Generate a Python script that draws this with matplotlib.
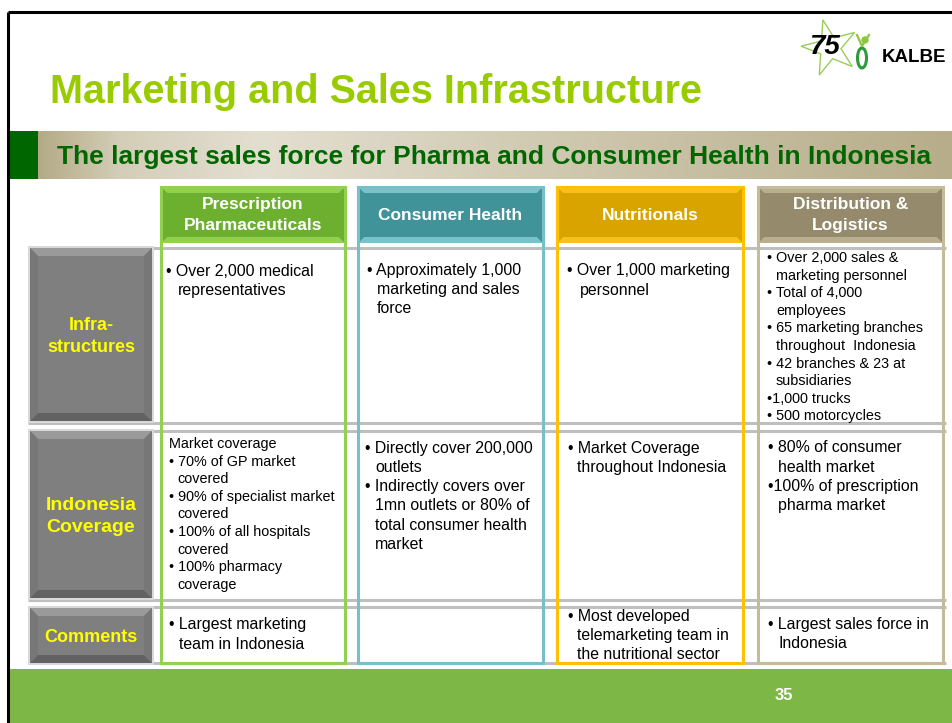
import numpy as np
import matplotlib
matplotlib.use("Agg")
import matplotlib.pyplot as plt
from matplotlib.patches import Rectangle, Polygon, Ellipse, Circle
from matplotlib.colors import to_rgb

plt.rcParams['font.family'] = ['Liberation Sans', 'DejaVu Sans']

# ---- slide content ----
title = "Marketing and Sales Infrastructure"
subtitle = "The largest sales force for Pharma and Consumer Health in Indonesia"
columns = ["Prescription\nPharmaceuticals", "Consumer Health", "Nutritionals", "Distribution &\nLogistics"]
rows = ["Infra-\nstructures", "Indonesia\nCoverage", "Comments"]
page_number = "35"

infra_cells = [
    ["• Over 2,000 medical", "  representatives"],
    ["• Approximately 1,000", "  marketing and sales", "  force"],
    ["• Over 1,000 marketing", "  personnel"],
    ["• Over 2,000 sales &", "  marketing personnel", "• Total of 4,000", "  employees",
     "• 65 marketing branches", "  throughout  Indonesia", "• 42 branches & 23 at",
     "  subsidiaries", "•1,000 trucks", "• 500 motorcycles"],
]
coverage_cells = [
    ["Market coverage", "• 70% of GP market", "  covered", "• 90% of specialist market",
     "  covered", "• 100% of all hospitals", "  covered", "• 100% pharmacy", "  coverage"],
    ["• Directly cover 200,000", "  outlets", "• Indirectly covers over",
     "  1mn outlets or 80% of", "  total consumer health", "  market"],
    ["• Market Coverage", "  throughout Indonesia"],
    ["• 80% of consumer", "  health market", "•100% of prescription", "  pharma market"],
]
comment_cells = [
    ["• Largest marketing", "  team in Indonesia"],
    [],
    ["• Most developed", "  telemarketing team in", "  the nutritional sector"],
    ["• Largest sales force in", "  Indonesia"],
]
cells = [infra_cells, coverage_cells, comment_cells]

# ---- layout (pixels) ----
col_x = [(161, 345), (358, 543), (557, 743), (758, 943)]
head_fill = ['#6DAF2F', '#3F9399', '#D9A400', '#958B6C']
head_light = ['#92D050', '#78C3CA', '#F5C21A', '#B8AF8E']
col_edge = ['#92D050', '#78C0C8', '#FFC000', '#C4BC99']
header_y = (187, 243)
row_y = [(248, 421), (431, 598), (608, 663)]
label_x = (30, 152)
label_size = [13, 14, 13]

# x of bullet, y of first line, line step, font size, indent of wrapped lines
cell_fmt = [
    [(166, 271, 19.3, 11.4, 12), (367, 270, 19.3, 11.4, 10), (567, 271, 19.3, 11.4, 13),
     (767, 258, 17.6, 10.4, 9)],
    [(169, 444, 17.6, 10.4, 8), (365, 448, 19.3, 11.4, 10), (568, 448, 19.3, 11.4, 9),
     (768, 448, 19.3, 11.4, 10)],
    [(169, 625, 19.3, 11.4, 10), (367, 625, 19.3, 11.4, 10), (568, 616, 19.3, 11.4, 9),
     (768, 624, 19.3, 11.4, 10)],
]

fig = plt.figure(figsize=(9.52, 7.23), dpi=100)
ax = fig.add_axes([0, 0, 1, 1])
ax.set_xlim(0, 952)
ax.set_ylim(723, 0)
ax.axis('off')


def bevel_box(x0, x1, y0, y1, base, top, bottom, side, b=7, z=2):
    ax.add_patch(Rectangle((x0, y0), x1 - x0, y1 - y0, facecolor=base, edgecolor='none', zorder=z))
    ax.add_patch(Polygon([(x0, y0), (x1, y0), (x1 - b, y0 + b), (x0 + b, y0 + b)],
                         facecolor=top, edgecolor='none', zorder=z))
    ax.add_patch(Polygon([(x0, y1), (x1, y1), (x1 - b, y1 - b), (x0 + b, y1 - b)],
                         facecolor=bottom, edgecolor='none', zorder=z))
    ax.add_patch(Polygon([(x0, y0), (x0 + b, y0 + b), (x0 + b, y1 - b), (x0, y1)],
                         facecolor=side, edgecolor='none', zorder=z))
    ax.add_patch(Polygon([(x1, y0), (x1 - b, y0 + b), (x1 - b, y1 - b), (x1, y1)],
                         facecolor=side, edgecolor='none', zorder=z))


# frame
ax.plot([8, 952], [12, 12], color='black', lw=2.2, zorder=6, solid_capstyle='butt')
ax.plot([8, 8], [12, 723], color='black', lw=2.2, zorder=6, solid_capstyle='butt')

# title
ax.text(50, 103, title, fontsize=28.5, fontweight='bold', color='#99CC00', va='baseline', ha='left')

# logo
ang = np.linspace(np.pi / 2, np.pi / 2 + 2 * np.pi, 11) + 0.25
rad = np.where(np.arange(11) % 2 == 0, 29, 11)
ax.add_patch(Polygon(np.c_[830 + rad * np.cos(ang), 48 - rad * np.sin(ang)], closed=True,
                     fill=False, edgecolor='#9ACD5A', lw=1.0, zorder=3))
ax.text(824, 47, "75", fontsize=20, fontweight='bold', style='italic', color='black',
        ha='center', va='center', zorder=4)
ax.add_patch(Ellipse((862, 58), 9, 20, fill=False, edgecolor='#2E9A3A', lw=2.2, zorder=4))
ax.add_patch(Circle((865, 40), 3, color='#8DC63F', zorder=4))
ax.plot([857, 862, 869], [35, 46, 35], color='#8DC63F', lw=1.6, zorder=4)
ax.text(882, 58, "KALBE", fontsize=13.5, fontweight='bold', color='black', ha='left', va='center')

# subtitle band
ax.add_patch(Rectangle((9, 131), 29, 48, facecolor='#006600', edgecolor='none', zorder=2))
gx = np.linspace(38, 952, 400)
stops_x = [38, 120, 260, 500, 952]
stops_c = [to_rgb('#B4AA86'), to_rgb('#D4CEB8'), to_rgb('#E3DFD0'), to_rgb('#D3CDB6'), to_rgb('#B7AD8A')]
grad = np.stack([np.interp(gx, stops_x, [c[i] for c in stops_c]) for i in range(3)], axis=-1)
ax.imshow(grad[np.newaxis, :, :], extent=[38, 952, 179, 131], aspect='auto', zorder=1)
ax.text(57, 157, subtitle, fontsize=19, fontweight='bold', color='#006600', va='center', ha='left', zorder=3)

# horizontal separators
for yy in [248, 423, 431, 600, 607, 663]:
    ax.plot([28, 946], [yy, yy], color='#BFBFBF', lw=2.2, zorder=1, solid_capstyle='butt')

# row label boxes
for (y0, y1), label, fs in zip(row_y, rows, label_size):
    ax.add_patch(Rectangle((label_x[0] - 2, y0 - 2), label_x[1] - label_x[0] + 4, y1 - y0 + 4,
                           facecolor='#D9D9D9', edgecolor='none', zorder=2))
    bevel_box(label_x[0], label_x[1], y0, y1, '#7F7F7F', '#9A9A9A', '#626262', '#777777', b=8, z=3)
    ax.text((label_x[0] + label_x[1]) / 2, (y0 + y1) / 2 + 2, label, fontsize=fs, fontweight='bold',
            color='#FFFF00', ha='center', va='center', linespacing=1.45, zorder=4)

# column headers and outlines
for i, ((x0, x1), name) in enumerate(zip(col_x, columns)):
    bevel_box(x0, x1, header_y[0], header_y[1], head_fill[i], head_light[i], head_light[i],
              head_fill[i], b=6, z=3)
    ax.text((x0 + x1) / 2, (header_y[0] + header_y[1]) / 2, name, fontsize=12.5, fontweight='bold',
            color='white', ha='center', va='center', linespacing=1.45, zorder=4)
    ax.add_patch(Rectangle((x0, header_y[0]), x1 - x0, 663 - header_y[0], fill=False,
                           edgecolor=col_edge[i], lw=2.2, zorder=5))

# cell text
for r, row_cells in enumerate(cells):
    for c, lines in enumerate(row_cells):
        bx, by, step, fs, ind = cell_fmt[r][c]
        for k, line in enumerate(lines):
            if line.startswith("  "):
                ax.text(bx + ind, by + k * step, line.strip(), fontsize=fs, color='black',
                        ha='left', va='center', zorder=4)
            else:
                ax.text(bx, by + k * step, line, fontsize=fs, color='black',
                        ha='left', va='center', zorder=4)

# footer
ax.add_patch(Rectangle((9, 669), 943, 54, facecolor='#7DB746', edgecolor='none', zorder=2))
ax.text(784, 696, page_number, fontsize=12, fontweight='bold', color='white', ha='center', va='center', zorder=4)

fig.savefig("out.png", dpi=100)
